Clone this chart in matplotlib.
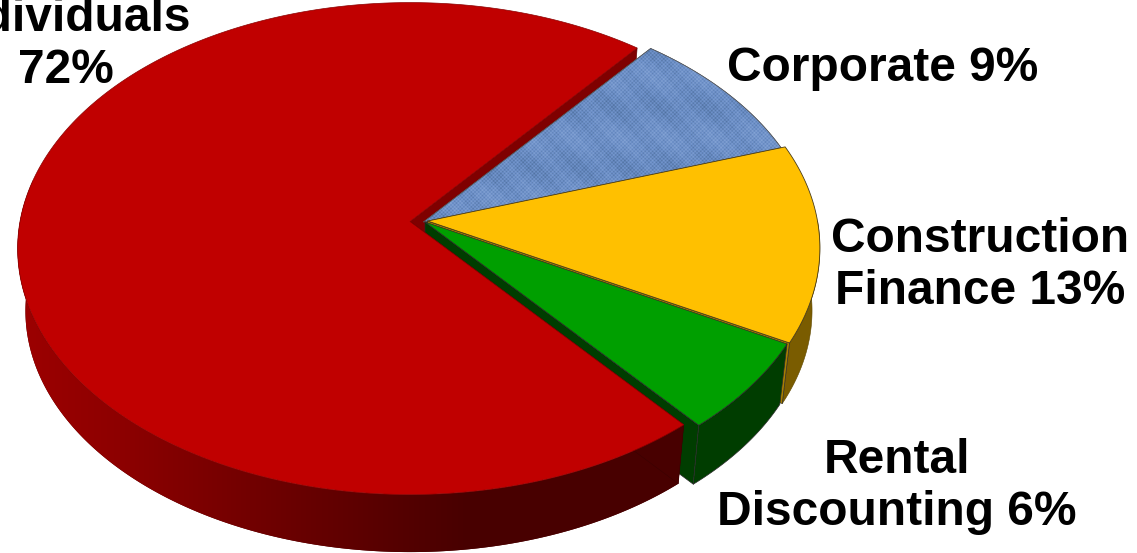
import numpy as np
import matplotlib
matplotlib.use('Agg')
import matplotlib.pyplot as plt
from matplotlib.colors import LinearSegmentedColormap
from matplotlib.patches import Polygon

plt.rcParams['font.family'] = ['Liberation Sans', 'DejaVu Sans']

# Share of each segment, counter-clockwise from the top right
segments = ['Individuals', 'Rental Discounting', 'Construction Finance', 'Corporate']
shares = [72, 6, 13, 9]

label_lines = ['Individuals\n72%', 'Rental\nDiscounting 6%', 'Construction\nFinance 13%', 'Corporate 9%']
label_pos = [(66, 83), (897, 525), (980, 304), (883, 81)]

top_colors = ['#c00000', '#009f00', '#ffc000', '#6b8ec6']
cut_colors = ['#7f0000', '#003d00', '#a87f00', '#4a628a']
outer_colors = ['#4a0000', '#003d00', '#7a5c00', '#4a628a']
apexes = [(410, 221.5), (425, 222), (427.5, 221), (423.5, 222)]

START_ANGLE = 50.8
# Perspective disc
RX, RY, PERSP = 390, 243, 0.11
DEPTH, BOTTOM_SCALE = 63, 0.98


def project(angle_deg, apex, bottom=False):
    t = np.radians(angle_deg)
    x, y = np.cos(t), np.sin(t)
    w = 1 + PERSP * y
    scale = BOTTOM_SCALE if bottom else 1.0
    shift = DEPTH if bottom else 0
    return apex[0] + scale * RX * x / w, apex[1] + shift - scale * RY * y / w


def arc(a0, a1, apex, bottom=False):
    px, py = project(np.linspace(a0, a1, 300), apex, bottom)
    return np.column_stack([px, py])


def apex_low(apex):
    return apex[0], apex[1] + DEPTH


def cut_face(angle, apex):
    p0 = project(angle, apex)
    p1 = project(angle, apex, True)
    return [apex, p0, p1, apex_low(apex)]


def outer_face(a0, a1, apex):
    # only the part of the rim that faces the viewer
    a0 = max(a0, 170)
    if a1 <= a0:
        return None
    return np.vstack([arc(a0, a1, apex), arc(a0, a1, apex, True)[::-1]])


def top_face(a0, a1, apex):
    return np.vstack([[apex], arc(a0, a1, apex)])


fig = plt.figure(figsize=(11.37, 5.53), dpi=100)
ax = fig.add_axes([0, 0, 1, 1])

# Wedge limits from the shares
edges = START_ANGLE + np.cumsum([0] + shares) * 3.6
red0, red1 = edges[0], edges[1]
green0, green1 = edges[1], edges[2]
yellow0, yellow1 = edges[2], edges[3]
blue0, blue1 = edges[3], edges[4]
line = dict(edgecolor='#2a2a2a', linewidth=0.5, joinstyle='round')

# Back to front: far cut of the big wedge first, big wedge top last
ax.add_patch(Polygon(cut_face(red0, apexes[0]), facecolor=cut_colors[0], zorder=1,
                     edgecolor='#600000', linewidth=0.4))

# Corporate wedge with a woven fill
blue_patch = Polygon(top_face(blue0, blue1, apexes[3]), facecolor=top_colors[3], zorder=2,
                     edgecolor='#555555', linewidth=0.5)
ax.add_patch(blue_patch)
gx, gy = np.meshgrid(np.arange(400, 800), np.arange(30, 240))
weave = (np.sin(2 * np.pi * gx / 3.7) * np.sin(2 * np.pi * gy / 3.7)
         + 0.35 * np.sin(2 * np.pi * gx / 11.3) * np.sin(2 * np.pi * gy / 13.7)
         + 0.3 * np.sin(2 * np.pi * (gx - gy) / 47)
         + 0.3 * np.sin(2 * np.pi * gy / 61))
weave_map = LinearSegmentedColormap.from_list('weave', ['#50719f', '#6b8ec6', '#86a5d6'])
img = ax.imshow(weave, extent=(400, 800, 240, 30), cmap=weave_map, aspect='auto',
                interpolation='bilinear', zorder=2.1)
img.set_clip_path(blue_patch)
ax.add_patch(Polygon(top_face(blue0, blue1, apexes[3]), fill=False, zorder=2.2,
                     edgecolor='#555555', linewidth=0.5))

# Construction wedge
yellow_rim = outer_face(yellow0, 360, apexes[2])
ax.add_patch(Polygon(yellow_rim, facecolor=outer_colors[2], zorder=3, edgecolor='#5f4800', linewidth=0.4))
ax.add_patch(Polygon(cut_face(yellow0, apexes[2]), facecolor=cut_colors[2], zorder=3.1, **line))
ax.add_patch(Polygon(top_face(yellow0, yellow1, apexes[2]), facecolor=top_colors[2], zorder=3.2,
                     edgecolor='#4a3c18', linewidth=0.6))

# Rental wedge
ax.add_patch(Polygon(cut_face(green0, apexes[1]), facecolor=cut_colors[1], zorder=4, **line))
ax.add_patch(Polygon(outer_face(green0, green1, apexes[1]), facecolor=outer_colors[1], zorder=4.1, **line))
ax.add_patch(Polygon(top_face(green0, green1, apexes[1]), facecolor=top_colors[1], zorder=4.2, **line))

# Individuals wedge, rim darkens towards the right
red_rim = Polygon(outer_face(red0, red1, apexes[0]), facecolor=outer_colors[0], zorder=5,
                  edgecolor='none')
ax.add_patch(red_rim)
shade = np.interp(np.arange(0, 700), [20, 120, 250, 400, 470, 700], [0, 0.18, 0.5, 0.85, 1, 1])[None, :]
rim_map = LinearSegmentedColormap.from_list('rim', ['#9c0000', '#480000'])
rim_img = ax.imshow(shade, extent=(0, 700, 560, 200), cmap=rim_map, aspect='auto', zorder=5.1,
                    vmin=0, vmax=1)
rim_img.set_clip_path(red_rim)
ax.add_patch(Polygon(cut_face(red1, apexes[0]), facecolor='#480000', zorder=5.15, edgecolor='#3a0000', linewidth=0.4))
ax.add_patch(Polygon(top_face(red0, red1, apexes[0]), facecolor=top_colors[0], zorder=5.2,
                     edgecolor='#8a0000', linewidth=0.5))

for text, (lx, ly) in zip(label_lines, label_pos):
    ax.text(lx, ly, text, ha='center', va='baseline', fontsize=34.5, fontweight='bold',
            color='black', linespacing=1.2, zorder=6)

ax.set_xlim(0, 1137)
ax.set_ylim(553, 0)
ax.axis('off')

fig.savefig('out.png', dpi=100)
